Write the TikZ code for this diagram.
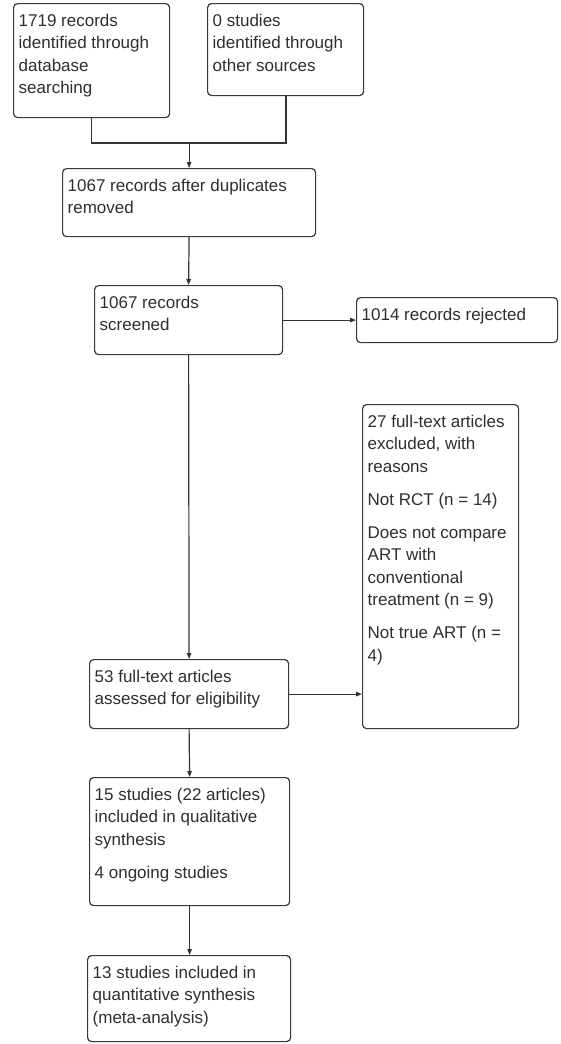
\documentclass[tikz,border=0pt]{standalone}
\usepackage{fontspec}
\setmainfont{Liberation Sans}
\usetikzlibrary{arrows.meta,calc}
\newcommand\mytxt[1]{\parbox[t]{220pt}{\raggedright\fontsize{17}{22.5}\selectfont #1}}
\tikzset{
  box/.style={draw=black!78, line width=1.2pt, rounded corners=4pt, anchor=north west, inner sep=0pt},
  txt/.style={inner sep=0pt, anchor=base west, text=black!82},
  conn/.style={draw=black!80, line width=1.2pt},
  arr/.style={conn, -{Triangle[length=6pt,width=4.5pt]}}
}
\begin{document}
\begin{tikzpicture}[x=1pt,y=-1pt]
\useasboundingbox (0,0) rectangle (560,1044);
% boxes
\node[box, minimum width=156pt, minimum height=114pt] (b1) at (13,3) {};
\node[box, minimum width=156pt, minimum height=92pt] (b2) at (207,3) {};
\node[box, minimum width=253pt, minimum height=68pt] (b3) at (62,168) {};
\node[box, minimum width=188pt, minimum height=69pt] (b4) at (94,285) {};
\node[box, minimum width=201pt, minimum height=45pt] (b5) at (356,297) {};
\node[box, minimum width=156pt, minimum height=324pt] (b7) at (362,404) {};
\node[box, minimum width=199pt, minimum height=69pt] (b6) at (89,659) {};
\node[box, minimum width=200pt, minimum height=128pt] (b8) at (89,777) {};
\node[box, minimum width=203pt, minimum height=86pt] (b9) at (87,955) {};
% texts
\node[txt] (t1) at ($(b1.north west)+(5.5,23.4)$) {\mytxt{1719 records\\identified through\\database\\searching}};
\node[txt] (t2) at ($(b2.north west)+(5.5,23.4)$) {\mytxt{0 studies\\identified through\\other sources}};
\node[txt] (t3) at ($(b3.north west)+(5.5,23.4)$) {\mytxt{1067 records after duplicates\\removed}};
\node[txt] (t4) at ($(b4.north west)+(5.5,23.4)$) {\mytxt{1067 records\\screened}};
\node[txt] (t5) at ($(b5.north west)+(5.5,23.4)$) {\mytxt{1014 records rejected}};
\node[txt] (t7) at ($(b7.north west)+(5.5,23.4)$) {\mytxt{27 full-text articles\\excluded, with\\reasons\\[10.5pt]Not RCT (n = 14)\\[10.5pt]Does not compare\\ART with\\conventional\\treatment (n = 9)\\[10.5pt]Not true ART (n =\\4)}};
\node[txt] (t6) at ($(b6.north west)+(5.5,23.4)$) {\mytxt{53 full-text articles\\assessed for eligibility}};
\node[txt] (t8) at ($(b8.north west)+(5.5,23.4)$) {\mytxt{15 studies (22 articles)\\included in qualitative\\synthesis\\[10.5pt]4 ongoing studies}};
\node[txt] (t9) at ($(b9.north west)+(5.5,23.4)$) {\mytxt{13 studies included in\\quantitative synthesis\\(meta-analysis)}};
% connectors
\coordinate (j1) at (b1.south |- 0,143);
\coordinate (j2) at (286,143);
\coordinate (j0) at (b3.north |- 0,143);
\draw[conn] (b1.south) -- (j1) -- (j2) -- (j2 |- b2.south);
\draw[arr] (j0) -- (b3.north);
\draw[arr] (b3.south) -- (b4.north);
\draw[arr] (b4.east) -- (b5.west);
\draw[arr] (b4.south) -- (b6.north);
\draw[arr] (b6.east) -- (b6.east -| b7.west);
\draw[arr] (b6.south) -- (b8.north);
\draw[arr] (b8.south) -- (b8.south |- b9.north);
\end{tikzpicture}
\end{document}
